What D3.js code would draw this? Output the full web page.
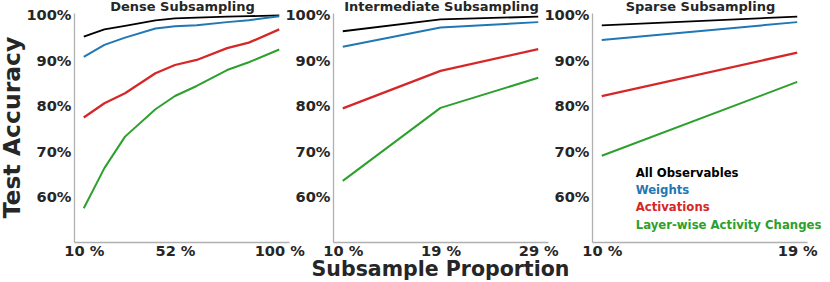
<!DOCTYPE html>
<html>
<head>
<meta charset="utf-8">
<script src="https://cdn.jsdelivr.net/npm/d3@7"></script>
<style>
  body { margin: 0; background: #fff; }
  svg { display: block; }
  text { font-family: "DejaVu Sans", sans-serif; font-weight: bold; }
</style>
</head>
<body>
<svg id="chart" width="830" height="282"></svg>
<script>
// ---- data ----
const titles = ["Dense Subsampling", "Intermediate Subsampling", "Sparse Subsampling"];
const seriesNames = ["All Observables", "Weights", "Activations", "Layer-wise Activity Changes"];
const seriesColors = ["#000000", "#1f77b4", "#d62728", "#2ca02c"];

const denseX = [10, 19.5, 29, 43, 52, 62, 76, 86, 100];
const denseAll = [95.2, 96.8, 97.6, 98.8, 99.2, 99.4, 99.6, 99.7, 99.9];
const denseWeights = [90.8, 93.4, 95.0, 97.0, 97.5, 97.7, 98.4, 98.8, 99.7];
const denseActivations = [77.5, 80.6, 82.8, 87.2, 89.0, 90.1, 92.7, 93.9, 96.8];
const denseLayerwise = [57.6, 66.4, 73.3, 79.3, 82.2, 84.4, 87.9, 89.6, 92.4];

const interX = [10, 19.5, 29];
const interAll = [96.4, 99.0, 99.6];
const interWeights = [93.0, 97.2, 98.4];
const interActivations = [79.5, 87.7, 92.5];
const interLayerwise = [63.6, 79.6, 86.2];

const sparseX = [10, 19.5];
const sparseAll = [97.7, 99.6];
const sparseWeights = [94.5, 98.4];
const sparseActivations = [82.2, 91.7];
const sparseLayerwise = [69.1, 85.3];

const denseXTicks = [10, 52, 100];
const interXTicks = [10, 19.5, 29];
const sparseXTicks = [10, 19.5];
const yTicks = [60, 70, 80, 90, 100];

const panels = [
  { title: titles[0], x: denseX, series: [denseAll, denseWeights, denseActivations, denseLayerwise], ticks: denseXTicks },
  { title: titles[1], x: interX, series: [interAll, interWeights, interActivations, interLayerwise], ticks: interXTicks },
  { title: titles[2], x: sparseX, series: [sparseAll, sparseWeights, sparseActivations, sparseLayerwise], ticks: sparseXTicks }
];

// ---- layout ----
const svg = d3.select("#chart");
const panelLefts = [74, 333, 592];
const panelW = 215;
const plotTop = 13, plotBottom = 242;
const textColor = "#262626";
const axisColor = "#b0b0b0";
const lineWidths = [1.8, 2, 2.3, 2];

const y = d3.scaleLinear().domain([50.2, 100.4]).range([plotBottom, plotTop]);

panels.forEach((p, i) => {
  const x0 = d3.min(p.x), x1 = d3.max(p.x);
  const pad = (x1 - x0) * 0.05;
  const x = d3.scaleLinear().domain([x0 - pad, x1 + pad]).range([panelLefts[i], panelLefts[i] + panelW]);

  const g = svg.append("g");

  const ya = g.append("g")
    .attr("transform", `translate(${panelLefts[i]},0)`)
    .call(d3.axisLeft(y).tickValues(yTicks).tickSize(0).tickPadding(2.5).tickFormat(d => d + "%"));
  const xa = g.append("g")
    .attr("transform", `translate(0,${plotBottom})`)
    .call(d3.axisBottom(x).tickValues(p.ticks).tickSize(0).tickPadding(3.5).tickFormat(d => Math.floor(d) + " %"));

  [ya, xa].forEach(a => {
    a.select(".domain").attr("stroke", axisColor).attr("stroke-width", 1.3);
    a.selectAll("text").attr("fill", textColor)
      .style("font-size", "14.6px").style("font-family", "DejaVu Sans").style("font-weight", "bold");
  });

  const line = d3.line().x((d, j) => x(p.x[j])).y(d => y(d));
  p.series.forEach((s, k) => {
    g.append("path")
      .datum(s)
      .attr("d", line)
      .attr("fill", "none")
      .attr("stroke", seriesColors[k])
      .attr("stroke-width", lineWidths[k])
      .attr("stroke-linejoin", "round")
      .attr("stroke-linecap", "butt");
  });

  g.append("text")
    .attr("x", panelLefts[i] + panelW / 2 + 1)
    .attr("y", 11)
    .attr("text-anchor", "middle")
    .attr("fill", textColor)
    .style("font-size", "13px")
    .text(p.title);
});

seriesNames.forEach((n, k) => {
  svg.append("text")
    .attr("x", 635.7)
    .attr("y", 176.7 + k * 17.3)
    .attr("fill", seriesColors[k])
    .style("font-size", "11.7px")
    .text(n);
});

svg.append("text")
  .attr("transform", `translate(20,${(plotTop + plotBottom) / 2}) rotate(-90)`)
  .attr("text-anchor", "middle")
  .attr("fill", textColor)
  .style("font-size", "23.5px")
  .text("Test Accuracy");

svg.append("text")
  .attr("x", panelLefts[1] + panelW / 2)
  .attr("y", 276)
  .attr("text-anchor", "middle")
  .attr("fill", textColor)
  .style("font-size", "20.5px")
  .text("Subsample Proportion");
</script>
</body>
</html>
